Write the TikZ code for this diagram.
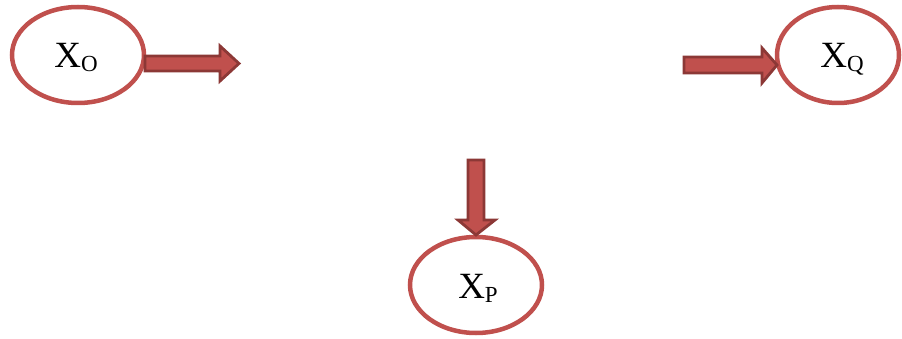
\documentclass[tikz,border=0pt]{standalone}
\usepackage{fontspec}
\setmainfont{Liberation Serif}
\definecolor{ered}{HTML}{C0504D}
\definecolor{edark}{HTML}{8C3836}
\newcommand{\subtxt}[1]{\raisebox{-4pt}{\fontsize{23}{25}\selectfont #1}}
\begin{document}
\begin{tikzpicture}[x=1pt,y=-1pt,
  blockarrow/.style={fill=ered,draw=edark,line width=2.8pt,line join=miter},
  lbl/.style={font=\fontsize{37}{40}\selectfont,inner sep=0pt}]
\useasboundingbox (0,0) rectangle (902,339);
\draw[ered,line width=4.5pt] (78,55) ellipse [x radius=66,y radius=48];
\draw[ered,line width=4.5pt] (838,55) ellipse [x radius=61,y radius=48];
\draw[ered,line width=4.5pt] (476,285) ellipse [x radius=66,y radius=48];
\node[lbl,anchor=base] (o) at (76,68) {X\subtxt{O}};
\node[lbl,anchor=base] (q) at (842,68) {X\subtxt{Q}};
\node[lbl,anchor=base] (p) at (478,298) {X\subtxt{P}};
\draw[blockarrow] (145,56) -- (220,56) -- (220,46) -- (239,63.5) -- (220,81) -- (220,71) -- (145,71) -- cycle;
\draw[blockarrow] (684,57) -- (762,57) -- (762,48) -- (777,65) -- (762,83) -- (762,73) -- (684,73) -- cycle;
\draw[blockarrow] (468,160) -- (468,220) -- (458,220) -- (476,235) -- (495,220) -- (484,220) -- (484,160) -- cycle;
\end{tikzpicture}
\end{document}
